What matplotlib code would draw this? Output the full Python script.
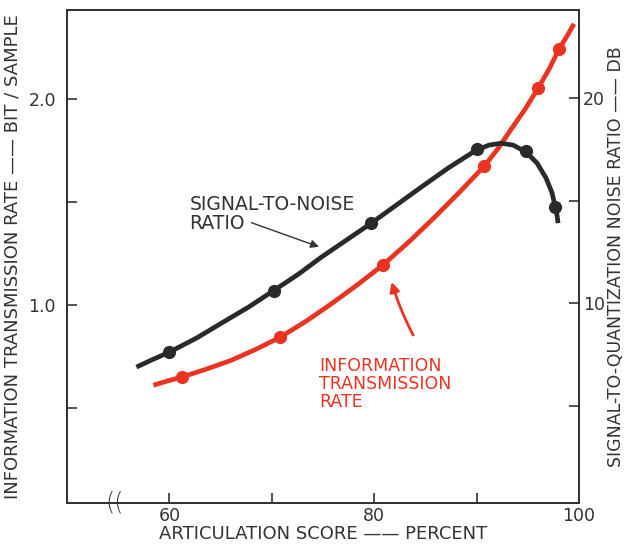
import numpy as np
import matplotlib
matplotlib.use("Agg")
import matplotlib.pyplot as plt

# articulation score (percent) vs. signal-to-noise ratio (dB, right axis)
snr_pts_x = [60.0, 70.2, 79.7, 90.0, 94.8, 97.7]
snr_pts_db = [7.6, 10.6, 13.9, 17.5, 17.4, 14.7]
# traced drawn curve
snr_curve_x = [56.78, 58.24, 60.0, 62.63, 65.07, 67.71, 70.24, 72.59, 74.83, 77.27, 79.71,
               82.15, 84.59, 87.22, 89.95, 91.22, 92.39, 93.56, 94.83, 95.90, 96.78,
               97.37, 97.66, 97.85, 97.95]
snr_curve_db = [6.88, 7.22, 7.61, 8.29, 9.02, 9.80, 10.63, 11.41, 12.24, 13.07, 13.90,
                14.78, 15.66, 16.59, 17.46, 17.71, 17.80, 17.71, 17.37, 16.83, 16.10,
                15.37, 14.73, 14.29, 13.90]

# articulation score vs. information transmission rate (bit/sample, left axis)
rate_pts_x = [61.2, 70.8, 80.9, 90.7, 96.0, 98.0]
rate_pts_y = [0.65, 0.844, 1.195, 1.672, 2.051, 2.241]
rate_curve_x = [58.44, 59.71, 61.17, 63.61, 66.05, 68.49, 70.83, 73.37, 75.80, 78.34, 80.88,
                83.41, 85.85, 88.29, 90.73, 92.10, 93.37, 94.73, 96.00, 97.07, 98.05,
                98.83, 99.51]
rate_curve_y = [0.611, 0.630, 0.650, 0.689, 0.732, 0.786, 0.844, 0.922, 1.005, 1.097, 1.195,
                1.307, 1.423, 1.545, 1.672, 1.759, 1.852, 1.949, 2.051, 2.143, 2.241,
                2.304, 2.363]

x_ticks = [60, 70, 80, 90, 100]
x_labels = ["60", "", "80", "", "100"]
left_ticks = [0.5, 1.0, 1.5, 2.0]
left_labels = ["", "1.0", "", "2.0"]
right_ticks = [5, 10, 15, 20]
right_labels = ["", "10", "", "20"]

BLACK = "#2a2a2a"
INK = "#333333"
RED = "#ea3422"

plt.rcParams["font.family"] = ["DejaVu Sans"]

fig = plt.figure(figsize=(6.26, 5.44), dpi=100)
ax = fig.add_axes([0.107, 0.0754, 0.818, 0.9062])
ax2 = ax.twinx()

ax.set_xlim(50, 100)
ax.set_ylim(0.04, 2.43)
ax2.set_ylim(0.25, 24.3)

ax.plot(rate_curve_x, rate_curve_y, color=RED, lw=3.4, solid_capstyle="butt", zorder=3)
ax.plot(rate_pts_x, rate_pts_y, "o", color=RED, ms=8.5, zorder=4)
ax2.plot(snr_curve_x, snr_curve_db, color=BLACK, lw=3.4, solid_capstyle="butt", zorder=3)
ax2.plot(snr_pts_x, snr_pts_db, "o", color=BLACK, ms=8.5, zorder=4)

for a in (ax, ax2):
    for s in a.spines.values():
        s.set_linewidth(1.4)
        s.set_color(INK)

ax.set_xticks(x_ticks, x_labels)
ax.set_yticks(left_ticks, left_labels)
ax2.set_yticks(right_ticks, right_labels)
ax.tick_params(axis="x", direction="in", length=7, width=1.2, pad=3, labelsize=12.5, colors=INK)
ax.tick_params(axis="y", direction="in", length=7, width=1.2, pad=8, labelsize=12.5, colors=INK)
ax2.tick_params(axis="y", direction="in", length=7, width=1.2, pad=3, labelsize=12.5, colors=INK)

ax.set_xlabel("ARTICULATION SCORE \u2014\u2014 PERCENT", fontsize=13, color=INK, labelpad=0)
ax.set_ylabel("INFORMATION TRANSMISSION RATE \u2014\u2014 BIT / SAMPLE", fontsize=13,
              color=INK, labelpad=5)
ax2.set_ylabel("SIGNAL-TO-QUANTIZATION NOISE RATIO \u2014\u2014 DB", fontsize=12.5,
               color=INK, labelpad=1)

# axis break mark
ax.text(54.7, 0.04, "((", fontsize=17, ha="center", va="center", color=INK,
        fontweight="light", clip_on=False, zorder=5)

ax.text(61.95, 1.535, "SIGNAL-TO-NOISE\nRATIO", fontsize=13.5, color=INK,
        ha="left", va="top", linespacing=1.0)
ax.annotate("", xy=(74.6, 1.282), xytext=(68.0, 1.399),
            arrowprops=dict(arrowstyle="-|>", color=INK, lw=1.0,
                            mutation_scale=12, shrinkA=0, shrinkB=0))

ax.text(74.6, 0.747, "INFORMATION\nTRANSMISSION\nRATE", fontsize=12.5, color=RED,
        ha="left", va="top", linespacing=1.0)
ax.annotate("", xy=(81.7, 1.112), xytext=(83.8, 0.854),
            arrowprops=dict(arrowstyle="-|>", color=RED, lw=2.0,
                            mutation_scale=14, shrinkA=0, shrinkB=0,
                            connectionstyle="arc3,rad=-0.05"))

fig.savefig("out.png", dpi=100)
